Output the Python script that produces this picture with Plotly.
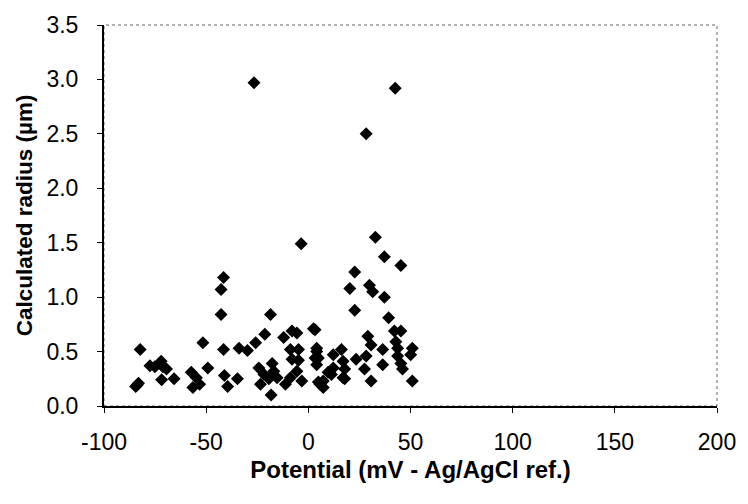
import plotly.graph_objects as go

# Potential (mV vs Ag/AgCl) and calculated radius (µm)
potential = [
    -26.6, 42.5, 28.3, -3.5, 32.8, 37.2, 45.3,
    -82.3, -83.9, -84.5, -83.1, -77.5, -75.1, -72.0, -71.2, -69.4, -71.8, -65.7,
    -57.3, -54.8, -53.2, -56.5, -49.2, -51.6,
    -41.5, -42.7, -42.7, -18.5, -41.5, -33.9, -29.8, -25.8, -21.3,
    -41.1, -39.5, -34.7, -24.2, -21.7, -17.7, -16.9, -19.3, -23.4, -15.3, -18.2,
    -12.1, -8.0, -5.6, -8.8, -4.8, -8.0, -4.8, -8.8, -11.2, -5.6, -3.2,
    2.5, 4.1, 3.3, 4.1,
    22.7, 20.3, 29.9, 31.5, 37.2, 22.7, 39.3, 3.3, 42.1, 45.3,
    29.1, 30.7, 42.8, 43.7, 50.9, 50.1, 36.4, 16.2, 12.2, 28.3, 23.4,
    4.1, 4.9, 43.7, 45.3, 36.4, 17.0, 17.8, 17.0, 12.2, 9.7, 7.3, 5.7,
    27.5, 30.7, 46.1, 50.9, 4.9, 7.3, 11.3, 17.8,
]
radius = [
    2.97, 2.92, 2.50, 1.49, 1.55, 1.37, 1.29,
    0.52, 0.19, 0.18, 0.21, 0.37, 0.36, 0.41, 0.36, 0.34, 0.24, 0.25,
    0.31, 0.26, 0.20, 0.17, 0.35, 0.58,
    1.18, 1.07, 0.84, 0.84, 0.52, 0.53, 0.51, 0.58, 0.66,
    0.28, 0.18, 0.25, 0.35, 0.29, 0.39, 0.32, 0.25, 0.20, 0.26, 0.10,
    0.63, 0.69, 0.67, 0.52, 0.52, 0.43, 0.42, 0.26, 0.20, 0.32, 0.23,
    0.71, 0.53, 0.44, 0.38,
    1.23, 1.08, 1.11, 1.05, 1.00, 0.88, 0.81, 0.70, 0.69, 0.69,
    0.64, 0.56, 0.59, 0.53, 0.53, 0.47, 0.52, 0.52, 0.47, 0.46, 0.43,
    0.50, 0.44, 0.46, 0.39, 0.38, 0.41, 0.34, 0.26, 0.35, 0.31, 0.23, 0.20,
    0.34, 0.23, 0.34, 0.23, 0.22, 0.17, 0.29, 0.25,
]

x_ticks = [-100, -50, 0, 50, 100, 150, 200]
y_ticks = [0.0, 0.5, 1.0, 1.5, 2.0, 2.5, 3.0, 3.5]

fig = go.Figure()
fig.add_trace(go.Scatter(
    x=potential, y=radius, mode="markers",
    marker=dict(symbol="diamond", size=10, color="black", line=dict(width=0)),
    showlegend=False,
))

font = dict(family="Liberation Sans, Arial, sans-serif", color="black")

fig.update_layout(
    width=748, height=504,
    margin=dict(l=103.5, r=25.3, t=15.7, b=98.3),
    paper_bgcolor="white", plot_bgcolor="white",
    font=dict(size=22, **font),
    shapes=[dict(type="rect", xref="paper", yref="paper", x0=0, x1=1, y0=0, y1=1,
                 line=dict(color="#666", width=1, dash="dot"), layer="below")],
)
fig.update_xaxes(
    range=[-100, 200], tickvals=x_ticks, ticktext=[str(v) for v in x_ticks],
    showgrid=False, zeroline=False,
    showline=True, linecolor="black", linewidth=2,
    ticks="outside", ticklen=5, tickwidth=1, tickcolor="black",
    ticklabelstandoff=9,
    tickfont=dict(size=23, **font),
    title=dict(text="<b>Potential (mV - Ag/AgCl ref.)</b>", font=dict(size=24, **font), standoff=8),
)
fig.update_yaxes(
    range=[0, 3.5], tickvals=y_ticks, ticktext=[f"{v:.1f}" for v in y_ticks],
    showgrid=False, zeroline=False,
    showline=True, linecolor="black", linewidth=2,
    ticks="outside", ticklen=5, tickwidth=1, tickcolor="black",
    ticklabelstandoff=14,
    tickfont=dict(size=23, **font),
    title=dict(text="<b>Calculated radius (µm)</b>", font=dict(size=22.5, **font), standoff=8),
)

fig.write_html("out.html")
